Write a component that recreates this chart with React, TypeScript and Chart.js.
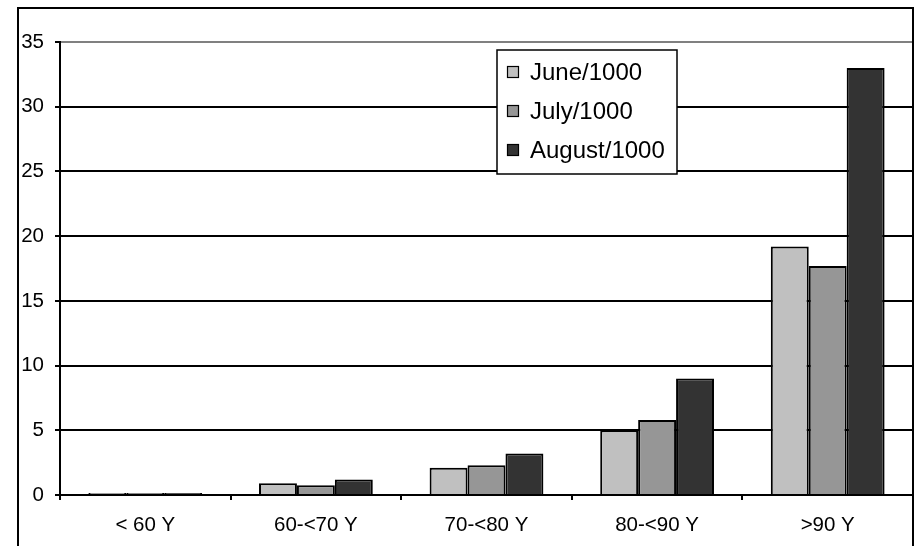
import React, { useEffect, useRef } from "react";
import { Chart, registerables } from "chart.js";

Chart.register(...registerables);

const categories = ["< 60 Y", "60-<70 Y", "70-<80 Y", "80-<90 Y", ">90 Y"];
const seriesNames = ["June/1000", "July/1000", "August/1000"];
const juneValues = [0.15, 0.9, 2.1, 5.0, 19.2];
const julyValues = [0.15, 0.75, 2.3, 5.8, 17.7];
const augustValues = [0.15, 1.2, 3.2, 9.0, 33.0];
const seriesColors = ["#c0c0c0", "#969696", "#333333"];

const FONT = "Arial, 'Liberation Sans', sans-serif";

const framePlugin = {
  id: "frame",
  beforeDraw(chart: any) {
    const ctx = chart.ctx;
    ctx.save();
    ctx.fillStyle = "#fff";
    ctx.fillRect(0, 0, chart.width, chart.height);
    ctx.restore();
  },
  afterDraw(chart: any) {
    const ctx = chart.ctx;
    ctx.save();
    ctx.strokeStyle = "#000";
    ctx.lineWidth = 2;
    ctx.strokeRect(18, 8, 895, 600);
    ctx.restore();
  },
};

const legendPlugin = {
  id: "boxLegend",
  afterDatasetsDraw(chart: any) {
    const ctx = chart.ctx;
    ctx.save();
    const bx = 497, by = 50, bw = 180, bh = 124;
    ctx.fillStyle = "#fff";
    ctx.fillRect(bx, by, bw, bh);
    ctx.strokeStyle = "#000";
    ctx.lineWidth = 1.5;
    ctx.strokeRect(bx, by, bw, bh);
    ctx.font = "24px " + FONT;
    ctx.textBaseline = "middle";
    ctx.textAlign = "left";
    const rows = [72, 111, 150];
    chart.data.datasets.forEach((ds: any, i: number) => {
      const y = rows[i];
      ctx.fillStyle = ds.backgroundColor;
      ctx.fillRect(507, y - 6, 12, 12);
      ctx.lineWidth = 1.2;
      ctx.strokeStyle = "#000";
      ctx.strokeRect(507.5, y - 5.5, 11, 11);
      ctx.fillStyle = "#000";
      ctx.fillText(ds.label, 530, y + 1);
    });
    ctx.restore();
  },
};

export default function App() {
  const canvasRef = useRef<HTMLCanvasElement>(null);
  useEffect(() => {
    if (!canvasRef.current) return;
    const data = [juneValues, julyValues, augustValues];
    const chart = new Chart(canvasRef.current, {
      type: "bar",
      data: {
        labels: categories,
        datasets: seriesNames.map((name, i) => ({
          label: name,
          data: data[i],
          backgroundColor: seriesColors[i],
          borderColor: "#000",
          borderWidth: 2,
          categoryPercentage: 0.667,
          barPercentage: 1,
        })),
      },
      options: {
        responsive: false,
        animation: false,
        devicePixelRatio: 1,
        layout: { padding: { top: 42, right: 3, left: 0, bottom: 0 } },
        plugins: { legend: { display: false }, tooltip: { enabled: false } },
        scales: {
          x: {
            grid: {
              display: true,
              drawOnChartArea: false,
              drawTicks: true,
              tickLength: 5,
              offset: true,
              color: "#000",
              lineWidth: 2,
            },
            border: { color: "#000", width: 2 },
            ticks: { padding: 13, color: "#000", font: { family: FONT, size: 20.5 }, maxRotation: 0 },
            afterFit: (s: any) => {
              s.height = 51;
            },
          },
          y: {
            min: 0,
            max: 35,
            ticks: { stepSize: 5, padding: 11, color: "#000", font: { family: FONT, size: 20.5 } },
            grid: {
              color: (c: any) => (c.tick && c.tick.value === 35 ? "#808080" : "#000"),
              lineWidth: 2,
              tickLength: 5,
              tickColor: "#000",
            },
            border: { color: "#000", width: 2 },
            afterFit: (s: any) => {
              s.width = 60;
            },
          },
        },
      },
      plugins: [framePlugin, legendPlugin],
    });
    return () => chart.destroy();
  }, []);
  return (
    <div style={{ position: "absolute", left: 0, top: 0, width: 916, height: 546 }}>
      <canvas ref={canvasRef} width={916} height={546} />
    </div>
  );
}
